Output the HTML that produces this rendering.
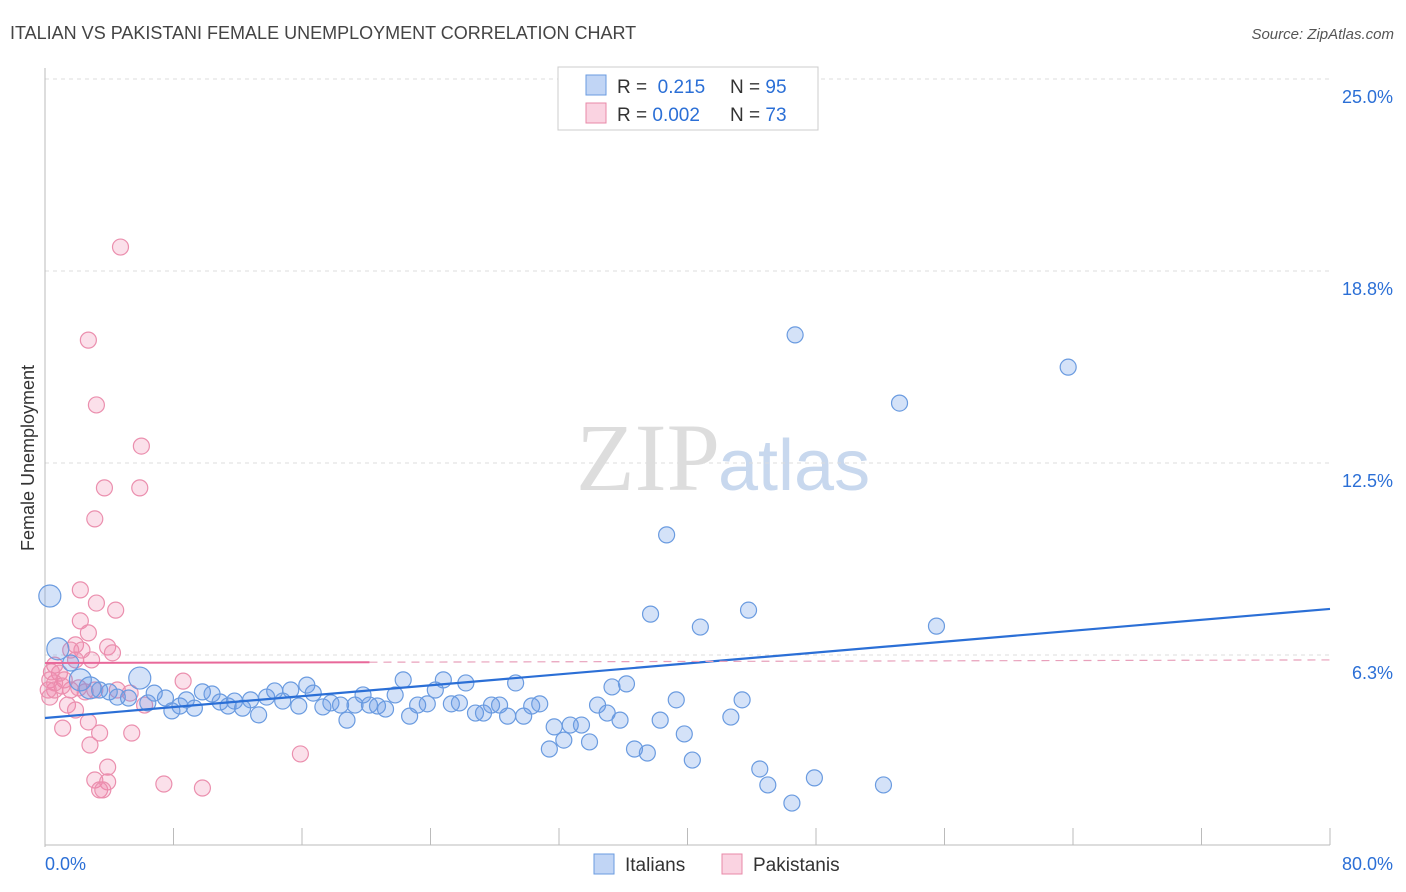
<!DOCTYPE html>
<html><head><meta charset="utf-8"><style>
body{margin:0;background:#fff;font-family:"Liberation Sans",sans-serif;}
svg{display:block}
</style></head><body>
<svg id="chart" width="1406" height="892" xmlns="http://www.w3.org/2000/svg">
<text x="10" y="39" font-size="18" fill="#444">ITALIAN VS PAKISTANI FEMALE UNEMPLOYMENT CORRELATION CHART</text>
<text x="1394" y="39" font-size="15" fill="#555" text-anchor="end" font-style="italic">Source: ZipAtlas.com</text>
<text x="720" y="490" font-size="96" fill="#ddd" text-anchor="end" font-family="Liberation Serif">ZIP</text>
<text x="718" y="490" font-size="72" fill="#c8d8ee">atlas</text>
<g id="grid"></g><g id="axes"></g><g id="pts"></g><g id="trend"></g>
<text x="34" y="458" font-size="18" fill="#333" text-anchor="middle" transform="rotate(-90 34 458)">Female Unemployment</text>
<g>
<rect x="558" y="67" width="260" height="63" fill="#fff" stroke="#ccc"/>
<rect x="586" y="75" width="20" height="20" fill="rgba(100,150,230,0.4)" stroke="#6a9be0"/>
<rect x="586" y="103" width="20" height="20" fill="rgba(240,130,170,0.35)" stroke="#e88aa8"/>
<text x="617" y="93" font-size="19" fill="#333">R = <tspan fill="#2b6fd6">&#160;0.215</tspan></text>
<text x="730" y="93" font-size="19" fill="#333">N = <tspan fill="#2b6fd6">95</tspan></text>
<text x="617" y="121" font-size="19" fill="#333">R = <tspan fill="#2b6fd6">0.002</tspan></text>
<text x="730" y="121" font-size="19" fill="#333">N = <tspan fill="#2b6fd6">73</tspan></text>
</g>
<g>
<rect x="594" y="854" width="20" height="20" fill="rgba(100,150,230,0.4)" stroke="#6a9be0"/>
<text x="625" y="871" font-size="19" fill="#333">Italians</text>
<rect x="722" y="854" width="20" height="20" fill="rgba(240,130,170,0.35)" stroke="#e88aa8"/>
<text x="753" y="871" font-size="19" fill="#333">Pakistanis</text>
</g>
</svg>
<script>
const yTicks=[6.25,12.5,18.75,25];
const yTickLabels=["6.3%","12.5%","18.8%","25.0%"];
const xTickLabels=["0.0%","80.0%"];
const blueX=[0.3,0.8,1.6,2.2,2.8,3.4,4.0,4.5,5.2,5.9,6.4,6.8,7.5,7.9,8.4,8.8,9.3,9.8,10.4,10.9,11.4,11.8,12.3,12.8,13.3,13.8,14.3,14.8,15.3,15.8,16.3,16.7,17.3,17.8,18.4,18.8,19.3,19.8,20.2,20.7,21.2,21.8,22.3,22.7,23.2,23.8,24.3,24.8,25.3,25.8,26.2,26.8,27.3,27.8,28.3,28.8,29.3,29.8,30.3,30.8,31.4,31.7,32.3,32.7,33.4,33.9,34.4,35.0,35.3,35.8,36.2,36.7,37.5,37.7,38.3,38.7,39.3,39.8,40.3,40.8,42.7,43.4,43.8,44.5,45.0,46.5,46.7,47.9,52.2,53.2,55.5,63.7,43.2];
const blueY=[8.17,6.45,5.99,5.44,5.18,5.11,5.05,4.88,4.85,5.5,4.69,5.01,4.85,4.43,4.59,4.79,4.52,5.05,4.98,4.72,4.59,4.75,4.52,4.79,4.3,4.88,5.08,4.75,5.11,4.59,5.27,5.01,4.56,4.69,4.62,4.13,4.62,4.95,4.62,4.59,4.49,4.95,5.44,4.26,4.62,4.66,5.11,5.44,4.66,4.69,5.34,4.36,4.36,4.62,4.62,4.26,5.34,4.26,4.59,4.66,3.19,3.91,3.48,3.97,3.97,3.42,4.62,4.36,5.21,4.13,5.31,3.19,3.06,7.58,4.13,10.16,4.79,3.68,2.83,7.16,4.23,4.79,7.71,2.54,2.02,1.43,16.67,2.25,2.02,14.45,7.19,15.62,24.7];
const blueBig=[1,1,0,1,1,0,0,0,0,1];
const pinkX=[4.7,2.7,3.2,6.0,3.7,5.9,3.1,2.2,3.2,4.4,2.2,2.7,1.9,3.9,2.3,4.2,1.6,2.9,1.9,0.6,0.9,0.3,1.2,0.6,1.6,0.3,1.06,2.1,2.5,3.1,4.5,5.3,6.2,8.6,1.4,1.9,2.7,1.1,3.4,5.4,2.8,3.9,3.1,3.9,3.4,3.6,7.4,9.8,15.9,0.6,0.2,0.4];
const pinkY=[19.53,16.5,14.39,13.05,11.69,11.69,10.68,8.37,7.94,7.71,7.36,6.97,6.58,6.51,6.41,6.32,6.41,6.09,6.09,5.92,5.66,5.44,5.44,5.11,5.11,4.88,5.24,5.18,5.05,5.11,5.11,5.01,4.62,5.4,4.62,4.46,4.07,3.87,3.71,3.71,3.32,2.6,2.18,2.12,1.86,1.86,2.05,1.92,3.03,5.34,5.11,5.7];
const blueTrend=[0,4.2,80,7.75];
const pinkTrend=[0,5.99,80,6.09];
const L=45,R=1330,T=79,B=847;
const sx=v=>L+v/80*(R-L);
const sy=v=>B-v/25*(B-T);
const NS="http://www.w3.org/2000/svg";
function mk(parent,tag,attrs){const e=document.createElementNS(NS,tag);for(const k in attrs)e.setAttribute(k,attrs[k]);document.getElementById(parent).appendChild(e);return e;}
yTicks.forEach((t,i)=>{
 const g=mk('grid','line',{x1:L,x2:R,y1:sy(t),y2:sy(t),stroke:'#ddd','stroke-dasharray':'4,4'});
 
 
 const tx=mk('grid','text',{x:1393,y:sy(t)+24,'font-size':18,fill:'#2b6fd6','text-anchor':'end'});
 tx.textContent=yTickLabels[i];
 
 
});
const ax=mk('axes','line',{x1:L,x2:R,y1:B-2,y2:B-2,stroke:'#bbb'});


const ay=mk('axes','line',{x1:L,x2:L,y1:68,y2:B,stroke:'#bbb'});


for(let i=1;i<=10;i++){const x=L+i*(R-L)/10;
 const tk=mk('axes','line',{x1:x,x2:x,y1:828,y2:845,stroke:'#bbb'});
 
 }
const xl=mk('axes','text',{x:45,y:870,'font-size':18,fill:'#2b6fd6'});xl.textContent=xTickLabels[0];


const xr=mk('axes','text',{x:1393,y:870,'font-size':18,fill:'#2b6fd6','text-anchor':'end'});xr.textContent=xTickLabels[1];


pinkX.forEach((v,i)=>{const c=mk('pts','circle',{cx:sx(v),cy:sy(pinkY[i]),r:8,fill:'rgba(240,130,170,0.25)',stroke:'#eb8fae','stroke-width':1.2});
 
 });
blueX.forEach((v,i)=>{const c=mk('pts','circle',{cx:sx(v),cy:sy(blueY[i]),r:blueBig[i]?11:8,fill:'rgba(100,150,230,0.28)',stroke:'#6a9be0','stroke-width':1.2});
 
 });
const bt=mk('trend','line',{x1:sx(blueTrend[0]),y1:sy(blueTrend[1]),x2:sx(blueTrend[2]),y2:sy(blueTrend[3]),stroke:'#2b6fd6','stroke-width':2.2});


const px2=20.2;const pm=pinkTrend[1]+(pinkTrend[3]-pinkTrend[1])*px2/80;
const pt=mk('trend','line',{x1:sx(pinkTrend[0]),y1:sy(pinkTrend[1]),x2:sx(px2),y2:sy(pm),stroke:'#e8689a','stroke-width':2});


const pd=mk('trend','line',{x1:sx(px2),y1:sy(pm),x2:sx(pinkTrend[2]),y2:sy(pinkTrend[3]),stroke:'#e8a0bb','stroke-width':1.2,'stroke-dasharray':'8,6'});


</script>
</body></html>
